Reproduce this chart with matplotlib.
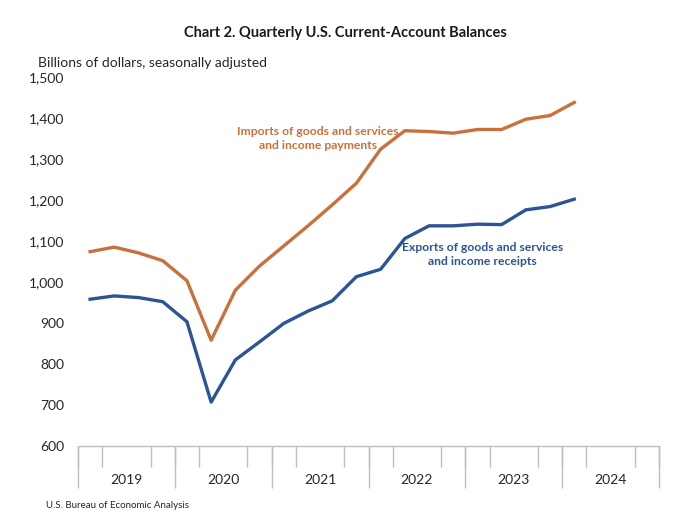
import matplotlib
matplotlib.use("Agg")
import numpy as np
from matplotlib import pyplot as plt

# 2019Q1 .. 2024Q1, billions of dollars
quarters = [f"{y}Q{q}" for y in range(2019, 2025) for q in range(1, 5)][:21]
imports_payments = [1074, 1085, 1071, 1052, 1003, 858, 980, 1039, 1088, 1137, 1188,
                    1241, 1324, 1369, 1367, 1363, 1372, 1372, 1397, 1406, 1438]
exports_receipts = [958, 966, 962, 952, 903, 707, 810, 854, 899, 929, 954,
                    1013, 1031, 1106, 1137, 1137, 1141, 1140, 1176, 1184, 1202]
years = ["2019", "2020", "2021", "2022", "2023", "2024"]
y_ticks = [600, 700, 800, 900, 1000, 1100, 1200, 1300, 1400, 1500]

ORANGE = "#C9703C"
BLUE = "#2C5496"
GRAY = "#BFBFBF"
TEXT = "#262626"

plt.rcParams["font.family"] = ["Lato", "DejaVu Sans"]

fig = plt.figure(figsize=(6.8, 5.28), dpi=100)
ax = fig.add_axes([78 / 680, 1 - 446 / 528, (659 - 78) / 680, (446 - 77) / 528])

x = np.arange(len(quarters))
ax.plot(x, imports_payments, color=ORANGE, lw=2.4, solid_joinstyle="round")
ax.plot(x, exports_receipts, color=BLUE, lw=2.4, solid_joinstyle="round")

n_q = 4 * len(years)
ax.set_xlim(-0.5, n_q - 0.5)
ax.set_ylim(600, 1500)

# y axis
ax.set_yticks(y_ticks, labels=[f"{v:,}" for v in y_ticks])
ax.tick_params(axis="y", length=0, pad=10, labelsize=10, labelcolor=TEXT)

# x axis: year labels at centers, quarter boundary ticks, longer year ticks
ax.set_xticks([4 * i + 1.5 for i in range(len(years))], labels=years)
ax.tick_params(axis="x", which="major", length=0, pad=20, labelsize=10, labelcolor=TEXT)
ax.set_xticks(np.arange(-0.5, n_q, 1), minor=True)
ax.tick_params(axis="x", which="minor", length=15, width=1, color=GRAY)
sec = ax.secondary_xaxis("bottom")
sec.set_xticks(np.arange(-0.5, n_q, 4), labels=[])
sec.tick_params(axis="x", length=30, width=1, color=GRAY)
sec.spines["bottom"].set_visible(False)

for s in ["top", "right", "left"]:
    ax.spines[s].set_visible(False)
ax.spines["bottom"].set_color(GRAY)
ax.spines["bottom"].set_linewidth(1)

ax.text(9.4, 1349, "Imports of goods and services\nand income payments", color=ORANGE,
        fontsize=8.7, fontweight="bold", ha="center", va="center", linespacing=1.35)
ax.text(16.2, 1068, "Exports of goods and services\nand income receipts", color=BLUE,
        fontsize=8.7, fontweight="bold", ha="center", va="center", linespacing=1.35)

fig.text(345 / 680, 1 - 33 / 528, "Chart 2. Quarterly U.S. Current-Account Balances",
         ha="center", va="center", fontsize=10.5, fontweight="bold", color="#1a1a1a")
fig.text(38 / 680, 1 - 63 / 528, "Billions of dollars, seasonally adjusted",
         ha="left", va="center", fontsize=10, color=TEXT)
fig.text(46 / 680, 1 - 505 / 528, "U.S. Bureau of Economic Analysis",
         ha="left", va="center", fontsize=7, color=TEXT)

fig.savefig("out.png", dpi=100)
